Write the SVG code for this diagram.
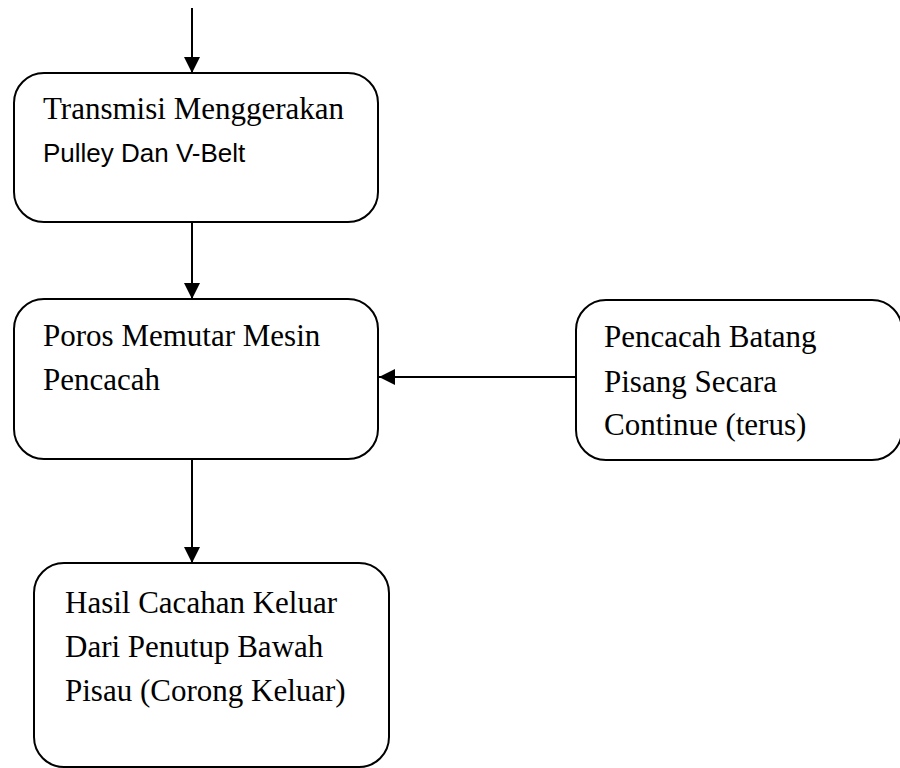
<svg xmlns="http://www.w3.org/2000/svg" width="900" height="768" viewBox="0 0 900 768">
<style>
.box{fill:#fff;stroke:#000;stroke-width:2}
.t{font-family:"Liberation Serif","Times New Roman",serif;font-size:31px;fill:#000}
.s{font-family:"Liberation Sans",Arial,sans-serif;font-size:26px;fill:#000}
.c{stroke:#000;stroke-width:2;fill:none}
</style>
<defs>
<marker id="ah" markerWidth="16" markerHeight="16" viewBox="0 0 16 16" refX="16" refY="8" orient="auto" markerUnits="userSpaceOnUse">
<path d="M0,0 L16,8 L0,16 Z" fill="#000"/>
</marker>
</defs>
<g id="connectors">
<line class="c" x1="192" y1="8" x2="192" y2="73" marker-end="url(#ah)"/>
<line class="c" x1="192" y1="223" x2="192" y2="299" marker-end="url(#ah)"/>
<line class="c" x1="576" y1="377" x2="379" y2="377" marker-end="url(#ah)"/>
<line class="c" x1="192" y1="459" x2="192" y2="563" marker-end="url(#ah)"/>
</g>
<g id="node1">
<rect class="box" x="14" y="73" width="364" height="149" rx="30"/>
<text class="t" x="43" y="119">Transmisi Menggerakan</text>
<text class="s" x="43" y="162">Pulley Dan V-Belt</text>
</g>
<g id="node2">
<rect class="box" x="14" y="299" width="364" height="160" rx="30"/>
<text class="t" x="43" y="346">Poros Memutar Mesin</text>
<text class="t" x="43" y="390">Pencacah</text>
</g>
<g id="node3">
<rect class="box" x="576" y="300" width="326" height="160" rx="30"/>
<text class="t" x="604" y="347">Pencacah Batang</text>
<text class="t" x="604" y="392">Pisang Secara</text>
<text class="t" x="604" y="435">Continue (terus)</text>
</g>
<g id="node4">
<rect class="box" x="34" y="563" width="355" height="204" rx="30"/>
<text class="t" x="65" y="613">Hasil Cacahan Keluar</text>
<text class="t" x="65" y="657">Dari Penutup Bawah</text>
<text class="t" x="65" y="701">Pisau (Corong Keluar)</text>
</g>
</svg>
